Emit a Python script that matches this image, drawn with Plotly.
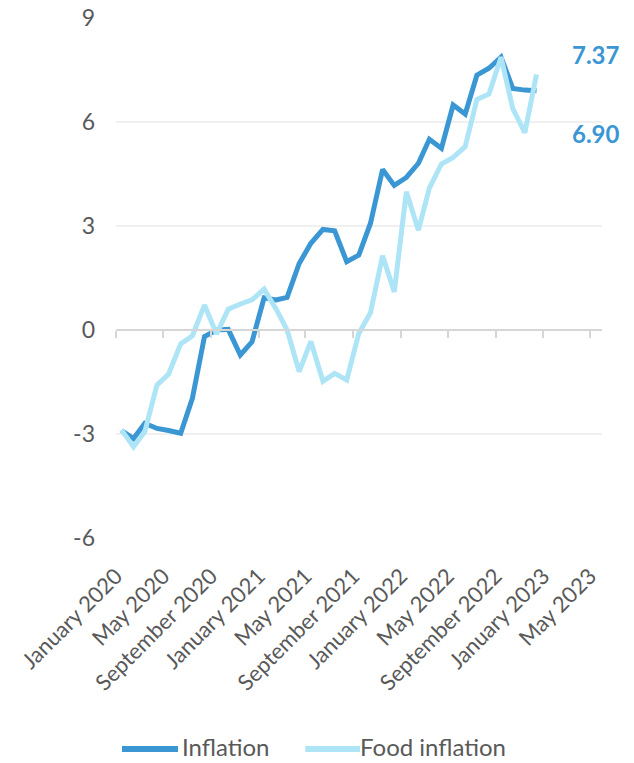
import plotly.graph_objects as go

# Monthly observations, January 2020 - December 2022 (plotted mid-month)
months = [f"{y}-{m:02d}-15" for y in (2020, 2021, 2022) for m in range(1, 13)]

inflation = [
    -2.90, -3.13, -2.69, -2.84, -2.90, -2.98, -1.97, -0.19, 0.00, 0.02, -0.72, -0.34,
    0.93, 0.87, 0.94, 1.92, 2.50, 2.90, 2.86, 1.97, 2.16, 3.08, 4.63, 4.17,
    4.40, 4.81, 5.50, 5.24, 6.49, 6.23, 7.35, 7.55, 7.87, 6.97, 6.92, 6.90,
]
food_inflation = [
    -2.88, -3.37, -2.93, -1.59, -1.27, -0.40, -0.17, 0.72, -0.12, 0.60, 0.75, 0.87,
    1.18, 0.60, 0.00, -1.20, -0.33, -1.48, -1.25, -1.44, -0.10, 0.50, 2.14, 1.10,
    3.99, 2.88, 4.09, 4.79, 4.98, 5.29, 6.65, 6.81, 7.87, 6.39, 5.69, 7.37,
]

tick_dates = ["2020-01-01", "2020-05-01", "2020-09-01", "2021-01-01", "2021-05-01",
              "2021-09-01", "2022-01-01", "2022-05-01", "2022-09-01", "2023-01-01",
              "2023-05-01"]
tick_labels = ["January 2020", "May 2020", "September 2020", "January 2021", "May 2021",
               "September 2021", "January 2022", "May 2022", "September 2022",
               "January 2023", "May 2023"]
y_ticks = [-6, -3, 0, 3, 6, 9]
y_tick_labels = ["-6", "-3", "0", "3", "6", "9"]

series_names = ["Inflation", "Food inflation"]

x_range = ["2020-01-01", "2023-06-01"]

DARK = "#3a97d4"
LIGHT = "#ade5f6"
GREY_TXT = "#595959"
FONT = "Lato"

fig = go.Figure()
fig.add_trace(go.Scatter(x=months, y=inflation, name=series_names[0], mode="lines",
                         line=dict(color=DARK, width=5), showlegend=False))
fig.add_trace(go.Scatter(x=months, y=food_inflation, name=series_names[1], mode="lines",
                         line=dict(color=LIGHT, width=5), showlegend=False))

# end-of-series value labels
fig.add_annotation(x=months[-1], y=food_inflation[-1], text=f"<b>{food_inflation[-1]:.2f}</b>",
                   showarrow=False, xanchor="left", yanchor="middle", xshift=33, yshift=20,
                   font=dict(family=FONT, size=24, color=DARK))
fig.add_annotation(x=months[-1], y=inflation[-1], text=f"<b>{inflation[-1]:.2f}</b>",
                   showarrow=False, xanchor="left", yanchor="middle", xshift=33, yshift=-43,
                   font=dict(family=FONT, size=24, color=DARK))

# legend row below the axis labels: line swatch + name for each series
legend_items = [(series_names[0], DARK, 0.0123, 0.1276, 0.1337),
                (series_names[1], LIGHT, 0.3895, 0.5021, 0.5000)]
LEG_Y = -0.4058
for name, color, x0, x1, xt in legend_items:
    fig.add_shape(type="line", xref="paper", yref="paper", x0=x0, x1=x1, y0=LEG_Y, y1=LEG_Y,
                  line=dict(color=color, width=6))
    fig.add_annotation(xref="paper", yref="paper", x=xt, y=LEG_Y, text=name, showarrow=False,
                       xanchor="left", yanchor="middle", yshift=3, borderpad=0,
                       font=dict(family=FONT, size=24, color=GREY_TXT))

fig.update_layout(
    width=634, height=763,
    margin=dict(l=116, r=32, t=18, b=225, autoexpand=False),
    paper_bgcolor="white", plot_bgcolor="white",
    font=dict(family=FONT, color=GREY_TXT),
    showlegend=False,
    xaxis=dict(type="date", range=x_range, tickvals=tick_dates, ticktext=tick_labels,
               tickangle=-45, showgrid=False, showline=False, zeroline=False, ticks="",
               automargin=False,
               tickfont=dict(family=FONT, size=22, color=GREY_TXT), ticklabelstandoff=20),
    # zero baseline carrying the tick marks
    xaxis2=dict(type="date", range=x_range, overlaying="x", anchor="free", position=0.4,
                tickvals=tick_dates, showticklabels=False, showgrid=False, zeroline=False,
                showline=True, linecolor="#d6d6d6", linewidth=2, automargin=False,
                ticks="outside", ticklen=7, tickwidth=2, tickcolor="#d6d6d6"),
    yaxis=dict(range=[-6, 9], tickvals=y_ticks, ticktext=y_tick_labels, showgrid=True,
               gridcolor="#f0f0f0", gridwidth=2, zeroline=False, showline=False, ticks="",
               automargin=False,
               tickfont=dict(family=FONT, size=23, color=GREY_TXT), ticklabelstandoff=20),
)

# invisible trace so the baseline axis is rendered
fig.add_trace(go.Scatter(x=[months[0]], y=[0], xaxis="x2", mode="markers",
                         marker=dict(opacity=0), showlegend=False, hoverinfo="skip"))

fig.write_html("out.html")
